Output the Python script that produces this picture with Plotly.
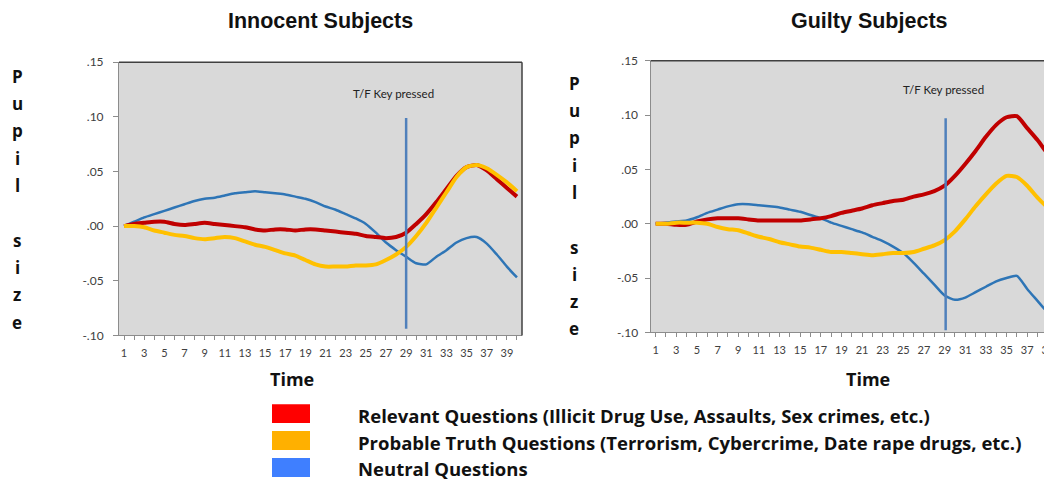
import plotly.graph_objects as go

time = list(range(1, 41))
tick_labels = [str(t) if t % 2 == 1 else "" for t in time]

innocent_relevant = [0.000, 0.002, 0.003, 0.004, 0.004, 0.002, 0.001, 0.002, 0.003, 0.002,
                     0.001, 0.000, -0.001, -0.003, -0.004, -0.003, -0.003, -0.004, -0.003, -0.003,
                     -0.004, -0.005, -0.006, -0.007, -0.009, -0.010, -0.011, -0.010, -0.006, 0.002,
                     0.011, 0.022, 0.034, 0.046, 0.054, 0.056, 0.051, 0.043, 0.035, 0.027]
innocent_truth = [0.000, 0.000, -0.001, -0.004, -0.006, -0.008, -0.009, -0.011, -0.012, -0.011,
                  -0.010, -0.011, -0.014, -0.017, -0.019, -0.022, -0.025, -0.027, -0.031, -0.035,
                  -0.037, -0.037, -0.037, -0.036, -0.036, -0.035, -0.031, -0.026, -0.019, -0.009,
                  0.003, 0.017, 0.031, 0.045, 0.054, 0.056, 0.053, 0.047, 0.040, 0.032]
innocent_neutral = [0.000, 0.004, 0.008, 0.011, 0.014, 0.017, 0.020, 0.023, 0.025, 0.026,
                    0.028, 0.030, 0.031, 0.032, 0.031, 0.030, 0.029, 0.027, 0.025, 0.022,
                    0.018, 0.015, 0.011, 0.007, 0.002, -0.006, -0.015, -0.022, -0.028, -0.034,
                    -0.035, -0.028, -0.022, -0.015, -0.011, -0.010, -0.016, -0.026, -0.037, -0.047]

guilty_relevant = [0.000, 0.000, -0.001, -0.001, 0.002, 0.004, 0.005, 0.005, 0.005, 0.004,
                   0.003, 0.003, 0.003, 0.003, 0.003, 0.004, 0.005, 0.007, 0.010, 0.012,
                   0.014, 0.017, 0.019, 0.021, 0.022, 0.025, 0.027, 0.030, 0.035, 0.044,
                   0.055, 0.067, 0.080, 0.091, 0.098, 0.099, 0.088, 0.077, 0.064, 0.052]
guilty_truth = [0.000, 0.000, 0.001, 0.001, 0.001, 0.000, -0.003, -0.005, -0.006, -0.009,
                -0.012, -0.014, -0.017, -0.019, -0.021, -0.022, -0.024, -0.026, -0.026, -0.027,
                -0.028, -0.029, -0.028, -0.027, -0.027, -0.026, -0.023, -0.020, -0.015, -0.007,
                0.004, 0.016, 0.027, 0.037, 0.044, 0.043, 0.035, 0.024, 0.015, 0.009]
guilty_neutral = [0.000, 0.001, 0.002, 0.003, 0.006, 0.010, 0.013, 0.016, 0.018, 0.018,
                  0.017, 0.016, 0.015, 0.013, 0.011, 0.008, 0.005, 0.001, -0.002, -0.005,
                  -0.008, -0.012, -0.016, -0.021, -0.027, -0.036, -0.046, -0.056, -0.066, -0.070,
                  -0.068, -0.063, -0.058, -0.053, -0.050, -0.048, -0.060, -0.071, -0.082, -0.093]

key_press_time = [29, 29.1]
key_line_y = [[0.099, -0.094], [0.097, -0.098]]
key_label = "T/F Key pressed"

panel_titles = ["Innocent Subjects", "Guilty Subjects"]
y_ticks = [-0.10, -0.05, 0.00, 0.05, 0.10, 0.15]
y_tick_labels = ["-.10", "-.05", ".00", ".05", ".10", ".15"]

legend_labels = ["Relevant Questions (Illicit Drug Use, Assaults, Sex crimes, etc.)",
                 "Probable Truth Questions (Terrorism, Cybercrime, Date rape drugs, etc.)",
                 "Neutral Questions"]
legend_colors = ["#ff0000", "#ffb000", "#3f7fff"]

W, H = 1052, 483
# map target screen pixels to paper fractions (page offset / render calibration)
OX, OY, PH = 8.0, 14.6, 469.5
def px(x):
    return (x - OX) / W
def py(y):
    return 1 - (y - OY) / PH

line_colors = {"rel": "#c00000", "tru": "#ffc000", "neu": "#2e75b6"}

fig = go.Figure()
panels = [
    ("x", "y", innocent_relevant, innocent_truth, innocent_neutral),
    ("x2", "y2", guilty_relevant, guilty_truth, guilty_neutral),
]
for i, (xa, ya, rel, tru, neu) in enumerate(panels):
    fig.add_trace(go.Scatter(x=time, y=neu, xaxis=xa, yaxis=ya, mode="lines",
                             line=dict(color=line_colors["neu"], width=2.5, shape="spline", smoothing=0.6),
                             showlegend=False, hoverinfo="skip"))
    fig.add_trace(go.Scatter(x=time, y=rel, xaxis=xa, yaxis=ya, mode="lines",
                             line=dict(color=line_colors["rel"], width=4, shape="spline", smoothing=0.6),
                             showlegend=False, hoverinfo="skip"))
    fig.add_trace(go.Scatter(x=time, y=tru, xaxis=xa, yaxis=ya, mode="lines",
                             line=dict(color=line_colors["tru"], width=4, shape="spline", smoothing=0.6),
                             showlegend=False, hoverinfo="skip"))
    fig.add_trace(go.Scatter(x=[key_press_time[i]] * 2, y=key_line_y[i], xaxis=xa, yaxis=ya, mode="lines",
                             line=dict(color="#5080bb", width=2.5),
                             showlegend=False, hoverinfo="skip"))

xtick_font = dict(family="Lato, Liberation Sans, sans-serif", size=11, color="#404040")
ytick_font = dict(family="Lato, Liberation Sans, sans-serif", size=12, color="#404040")
xcommon = dict(tickmode="array", tickvals=time, ticktext=tick_labels, ticks="outside", ticklen=4,
               tickcolor="#8c8c8c", showline=True, linecolor="#8c8c8c", linewidth=1,
               showgrid=False, zeroline=False, tickfont=xtick_font, fixedrange=True,
               ticklabelstandoff=3)
ycommon = dict(tickmode="array", tickvals=y_ticks, ticktext=y_tick_labels, range=[-0.10, 0.15],
               ticks="outside", ticklen=5, tickcolor="#8c8c8c", showline=True, linecolor="#8c8c8c",
               linewidth=1, showgrid=False, zeroline=False, tickfont=ytick_font, fixedrange=True)

RIGHT_STEP = 10.32
fig.update_layout(
    width=W, height=H, margin=dict(l=0, r=0, t=0, b=0),
    paper_bgcolor="white", plot_bgcolor="#d9d9d9",
    xaxis=dict(domain=[px(119), px(522)], range=[0.5, 40.5], anchor="y", **xcommon),
    yaxis=dict(domain=[py(335), py(61)], anchor="x", ticklabelstandoff=7, **ycommon),
    xaxis2=dict(domain=[px(650.5), 1.0], range=[0.5, 0.5 + (W + OX - 650.5) / RIGHT_STEP],
                anchor="y2", **xcommon),
    yaxis2=dict(domain=[py(332), py(59.5)], anchor="x2", ticklabelstandoff=4, **ycommon),
    showlegend=False,
)

shapes = []
shapes.append(dict(type="line", xref="x domain", yref="y domain", x0=0, x1=1, y0=1, y1=1,
                   line=dict(color="#404040", width=1.5)))
shapes.append(dict(type="line", xref="x domain", yref="y domain", x0=1, x1=1, y0=0, y1=1,
                   line=dict(color="#404040", width=1.5)))
shapes.append(dict(type="line", xref="x2 domain", yref="y2 domain", x0=0, x1=1, y0=1, y1=1,
                   line=dict(color="#404040", width=1.5)))
for k, col in enumerate(legend_colors):
    top = 404 + k * 27
    shapes.append(dict(type="rect", xref="paper", yref="paper", x0=px(272), x1=px(310),
                       y0=py(top + 19), y1=py(top), fillcolor=col, line=dict(width=0)))
fig.update_layout(shapes=shapes)

ann = []
title_font = dict(family="Liberation Sans, Arial, sans-serif", size=21.5, color="#111111")
ann.append(dict(x=px(320), y=py(20), xref="paper", yref="paper", text="<b>%s</b>" % panel_titles[0],
                showarrow=False, font=title_font, xanchor="center", yanchor="middle"))
ann.append(dict(x=px(869), y=py(20), xref="paper", yref="paper", text="<b>%s</b>" % panel_titles[1],
                showarrow=False, font=title_font, xanchor="center", yanchor="middle"))

label_font = dict(family="Open Sans, sans-serif", size=18, color="#111111")
ann.append(dict(x=px(292), y=py(379), xref="paper", yref="paper", text="<b>Time</b>",
                showarrow=False, font=label_font, xanchor="center", yanchor="middle"))
ann.append(dict(x=px(868), y=py(379), xref="paper", yref="paper", text="<b>Time</b>",
                showarrow=False, font=label_font, xanchor="center", yanchor="middle"))

ylabel = "Pupil size"
letter_font = dict(family="Open Sans, sans-serif", size=17, color="#111111")
for cx, y0 in [(17, 75), (574, 82)]:
    for j, ch in enumerate(ylabel):
        if ch == " ":
            continue
        ann.append(dict(x=px(cx), y=py(y0 + j * 27.4), xref="paper", yref="paper",
                        text="<b>%s</b>" % ch, showarrow=False, font=letter_font,
                        xanchor="center", yanchor="middle"))

key_font = dict(family="Lato, Liberation Sans, sans-serif", size=11.5, color="#222222")
ann.append(dict(x=px(393), y=py(92), xref="paper", yref="paper", text=key_label,
                showarrow=False, font=key_font, xanchor="center", yanchor="middle"))
ann.append(dict(x=px(943), y=py(88), xref="paper", yref="paper", text=key_label,
                showarrow=False, font=key_font, xanchor="center", yanchor="middle"))

leg_font = dict(family="Open Sans, sans-serif", size=18.5, color="#111111")
for k, lab in enumerate(legend_labels):
    ann.append(dict(x=px(356), y=py(415 + k * 27), xref="paper", yref="paper",
                    text="<b>%s</b>" % lab, showarrow=False, font=leg_font,
                    xanchor="left", yanchor="middle"))
fig.update_layout(annotations=ann)

fig.write_html("out.html")
